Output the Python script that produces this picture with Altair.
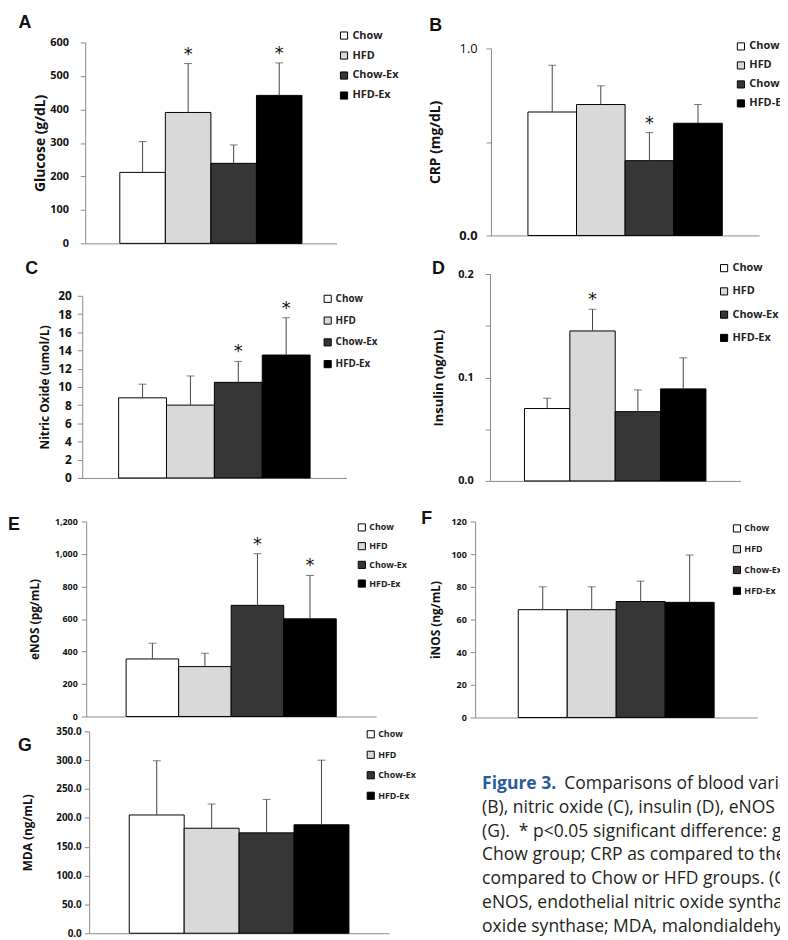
import altair as alt
import pandas as pd

# ---------------- data ----------------
groups = ["Chow", "HFD", "Chow-Ex", "HFD-Ex"]
fills = ["#ffffff", "#d9d9d9", "#363636", "#000000"]

glucose_mean = [212, 391, 239, 442]
glucose_sd = [92, 146, 55, 97]
glucose_sig = [False, True, False, True]

crp_mean = [0.66, 0.70, 0.40, 0.60]
crp_sd = [0.25, 0.10, 0.15, 0.10]
crp_sig = [False, False, True, False]

no_mean = [8.8, 8.0, 10.5, 13.5]
no_sd = [1.5, 3.2, 2.3, 4.1]
no_sig = [False, False, True, True]

insulin_mean = [0.070, 0.145, 0.067, 0.089]
insulin_sd = [0.010, 0.021, 0.021, 0.030]
insulin_sig = [False, True, False, False]

enos_mean = [354, 307, 684, 601]
enos_sd = [97, 82, 318, 267]
enos_sig = [False, False, True, True]

inos_mean = [66, 66, 71, 70.5]
inos_sd = [14, 14, 12.5, 29]
inos_sig = [False, False, False, False]

mda_mean = [205, 182, 174, 188]
mda_sd = [94, 42, 58, 112]
mda_sig = [False, False, False, False]

caption_head = "Figure 3."
caption_first = "Comparisons of blood variables: glucose (A), CRP"
caption_lines = [
    "(B), nitric oxide (C), insulin (D), eNOS (E), iNOS (F), and MDA",
    "(G).\u00a0 * p<0.05 significant difference: glucose as compared to the",
    "Chow group; CRP as compared to the Chow group; NO and eNOS as",
    "compared to Chow or HFD groups. (CRP, C-reactive protein;",
    "eNOS, endothelial nitric oxide synthase; iNOS, inducible nitric",
    "oxide synthase; MDA, malondialdehyde.",
]

# ---------------- layout ----------------
W, H = 780, 932
M = 8  # page margin
FONT = "Open Sans"
AXC = "#8a8a8a"
ENTRY = 12.8  # legend entry height


def panel(letter, mean, sd, sig, title, ymax, yticks, label_expr, box,
          letter_pos, legend_spec, tick_fs, title_fs, label_pad, title_pad,
          outer=0.76, label_weight="bold"):
    left, right, top, bottom = [v - M for v in box]
    df = pd.DataFrame({
        "group": groups,
        "mean": mean,
        "upper": [m + s for m, s in zip(mean, sd)],
        "star": ["*" if s else "" for s in sig],
    })
    xs = alt.Scale(domain=groups, range=[left, right], paddingInner=0,
                   paddingOuter=outer)
    ys = alt.Scale(domain=[0, ymax], range=[bottom, top], nice=False, zero=True)
    xaxis = alt.Axis(orient="bottom", offset=bottom - H, labels=False,
                     ticks=False, title=None, domainColor=AXC, grid=False)
    yaxis = alt.Axis(orient="left", offset=-left, values=yticks,
                     labelExpr=label_expr, title=title, grid=False,
                     domainColor=AXC, tickColor=AXC, tickSize=5,
                     labelFont=FONT, labelFontSize=tick_fs,
                     labelFontWeight=label_weight, labelColor="#111",
                     labelPadding=label_pad, titleFont=FONT,
                     titleFontSize=title_fs, titleFontWeight="bold",
                     titleColor="#111", titlePadding=title_pad)
    lx, ly, gap, lfs, loff = legend_spec
    x_enc = alt.X("group:N", scale=xs, sort=groups, axis=xaxis)
    base = alt.Chart(df)
    bars = base.mark_bar(stroke="black", strokeWidth=1).encode(
        x=x_enc,
        y=alt.Y("mean:Q", scale=ys, axis=yaxis),
        fill=alt.Fill("group:N", scale=alt.Scale(domain=groups, range=fills),
                      legend=alt.Legend(orient="none", legendX=lx - M,
                                        legendY=ly - M - loff, title=None,
                                        symbolType="square", symbolSize=52,
                                        symbolStrokeColor="black",
                                        symbolStrokeWidth=1, labelFont=FONT,
                                        labelFontSize=lfs, labelFontWeight="bold",
                                        labelColor="#222", labelOffset=3,
                                        rowPadding=gap - ENTRY, padding=0)),
    )
    err = base.mark_rule(color="#444", strokeWidth=1).encode(
        x=x_enc, y=alt.Y("mean:Q", scale=ys, axis=yaxis), y2="upper:Q")
    cap = base.mark_tick(color="#444", size=8, thickness=1).encode(
        x=x_enc, y=alt.Y("upper:Q", scale=ys, axis=yaxis))
    stars = base.mark_text(font="DejaVu Sans", fontSize=18, color="#111",
                           baseline="middle", dy=-9).encode(
        x=x_enc, y=alt.Y("upper:Q", scale=ys, axis=yaxis), text="star:N")
    lab = alt.Chart(pd.DataFrame({"t": [letter]})).mark_text(
        font="Liberation Sans", fontSize=18, fontWeight="bold", color="#111",
        align="center", baseline="middle").encode(
        x=alt.value(letter_pos[0] - M), y=alt.value(letter_pos[1] - M),
        text="t:N")
    return alt.layer(bars, err, cap, stars, lab)


fmt0 = "format(datum.value, ',d')"
pA = panel("A", glucose_mean, glucose_sd, glucose_sig, "Glucose (g/dL)", 600,
           [0, 100, 200, 300, 400, 500, 600], fmt0, (86, 340, 38, 241),
           (25, 18), (342, 34, 20, 11, 8.5), 11, 14, 12, 2)
pB = panel("B", crp_mean, crp_sd, crp_sig, "CRP (mg/dL)", 1.0, [0, 0.5, 1.0],
           "datum.value == 0.5 ? '' : format(datum.value, '.1f')",
           (496, 767, 44, 233), (440, 21), (743, 45, 19, 11, 8.5), 13, 14, 9, 16,
           label_weight={"condition": {"test": "datum.value == 0", "value": "bold"},
                         "value": "normal"})
pC = panel("C", no_mean, no_sd, no_sig, "Nitric Oxide (umol/L)", 20,
           list(range(0, 21, 2)), fmt0, (83, 350, 294, 478), (32, 267),
           (326, 298, 22.8, 10, 6), 12, 12, 6, 6)
pD = panel("D", insulin_mean, insulin_sd, insulin_sig, "Insulin (ng/mL)", 0.2,
           [0, 0.05, 0.1, 0.15, 0.2],
           "round(datum.value * 100) % 10 == 0 ? format(datum.value, '.1f') : ''",
           (495, 748, 272, 481), (443, 267), (726, 267, 23.3, 11, 6.5), 11, 13, 12, 12)
pE = panel("E", enos_mean, enos_sd, enos_sig, "eNOS (pg/mL)", 1200,
           list(range(0, 1201, 200)), fmt0, (87, 380, 522, 719), (14, 526),
           (361, 527, 18.7, 9, 3.5), 9, 12, 4, 13)
pF = panel("F", inos_mean, inos_sd, inos_sig, "iNOS (ng/mL)", 120,
           list(range(0, 121, 20)), fmt0, (480, 765, 522, 720), (431, 520),
           (740, 528, 20.8, 9, 3.5), 9, 12, 4, 9, outer=0.88)
pG = panel("G", mda_mean, mda_sd, mda_sig, "MDA (ng/mL)", 350,
           list(range(0, 351, 50)), "format(datum.value, '.1f')",
           (90, 393, 734, 938), (25, 749), (370, 734, 20.5, 9, 1.5), 10, 12, 3, 22,
           outer=0.73)

# ---------------- caption ----------------
cap_df = pd.DataFrame({"line": list(range(1, 7)), "text": caption_lines})
head_df = pd.DataFrame({"line": [0], "text": [caption_head]})
first_df = pd.DataFrame({"line": [0], "text": [caption_first]})
cy = alt.Y("line:Q", scale=alt.Scale(domain=[0, 6], range=[787.5 - M, 931.5 - M]),
           axis=None)
CFS = 17.7
cap_head = alt.Chart(head_df).mark_text(
    font=FONT, fontSize=CFS, fontWeight="bold", color="#2b5a9c", align="left",
    baseline="middle").encode(x=alt.value(487 - M), y=cy, text="text:N")
cap_first = alt.Chart(first_df).mark_text(
    font=FONT, fontSize=CFS, color="#231f20", align="left",
    baseline="middle").encode(x=alt.value(570 - M), y=cy, text="text:N")
cap_rest = alt.Chart(cap_df).mark_text(
    font=FONT, fontSize=CFS, color="#231f20", align="left",
    baseline="middle").encode(x=alt.value(487 - M), y=cy, text="text:N")
caption = alt.layer(cap_head, cap_first, cap_rest)

chart = alt.layer(pA, pB, pC, pD, pE, pF, pG, caption).resolve_scale(
    x="independent", y="independent", fill="independent"
).resolve_axis(x="independent", y="independent").resolve_legend(
    fill="independent"
).properties(
    width=W, height=H, padding=0, autosize=alt.AutoSizeParams(type="none")
).configure_view(stroke=None)

chart.save("out.html", embed_options={"renderer": "svg", "actions": False})
